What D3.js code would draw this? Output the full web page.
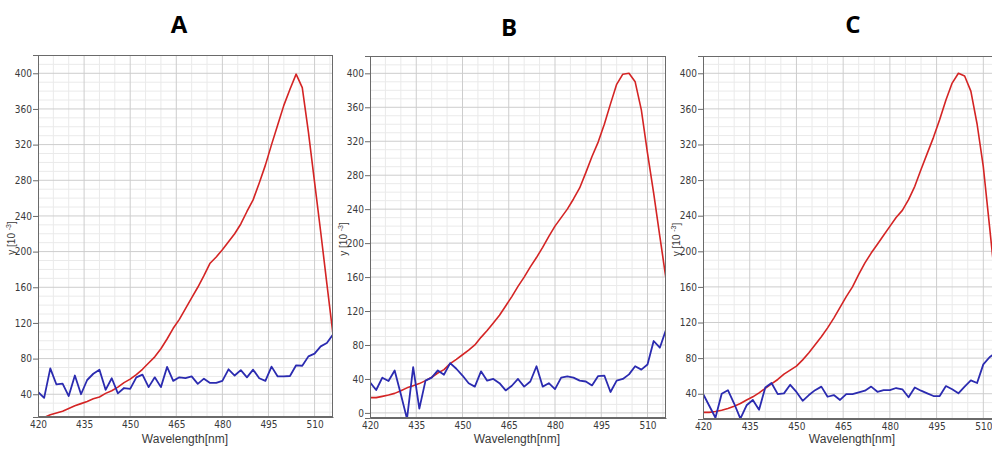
<!DOCTYPE html>
<html>
<head>
<meta charset="utf-8">
<script src="https://cdn.jsdelivr.net/npm/d3@7"></script>
<style>
  body { margin: 0; background: #fff; }
  svg { display: block; }
</style>
</head>
<body>
<svg id="chart" width="992" height="449"></svg>
<script>
// Wavelength samples (nm) shared by every spectrum
const wavelength = [420,422,424,426,428,430,432,434,436,438,440,442,444,446,448,450,452,454,456,458,
  460,462,464,466,468,470,472,474,476,478,480,482,484,486,488,490,492,494,496,498,
  500,502,504,506,508,510,512,514,516];

// Tick labels
const xTicks = [420,435,450,465,480,495,510];
const yTicksA = [40,80,120,160,200,240,280,320,360,400];
const yTicksB = [0,40,80,120,160,200,240,280,320,360,400];
const yTicksC = [40,80,120,160,200,240,280,320,360,400];

// Panel titles
const titles = ["A","B","C"];

// Spectra, y in units of 10^-3
const redA = [12,14,17,19,21,24,27,29.5,32,35,37,41,44,48,53,57,62,68,75,82,
  91,102,114,124,136,148,160,173,187,194,202,211,220,231,245,258,277,297,320,342,
  364,382,399,384,334,278,222,164,107];
const blueA = [42.6,36,69,51,52,38,61,40,56,63,67.6,45,58,41,47,46,59,62,48,59,
  48,70.6,55,59,58,60,51.6,57.5,52.7,52.7,55,68,61,67,59,67.6,58,55,71,60,
  60,60.5,72.5,72,82.5,85.5,93.7,97.5,107];

const redB = [18,18,19.5,21,23,26,29.5,32,34.5,38,42,47,51,58,63,68.5,74,80,89,97,
  106,115,126,137,149,160,172,183,195,208,220,230,240,252,265,283,302,319,340,364,
  387,399,400,390,357,306,259,208,158];
const blueB = [36,27,41.5,37.5,50,22,-7,54,5,38,41.5,50,45,58.7,52,44,35,31,49,38,
  40,35,26.5,32,40,31,37,55,31,35,28,41.5,43,41.5,38,37,32.4,43.4,44,24.6,
  38,40,45.4,55,51,57,84.7,76.8,98];

const redC = [19,19,20,21.5,23.5,26,29,33,36.5,41,46,51,56,62,66.5,71,78,86,95,104,
  114,125,137,149,160,174,187,198,208,218,228,238,246,258,273,292,310,328,348,370,
  389,400,397,380,343,295,228,160,100];
const blueC = [40,26.5,13,40,44,29,12,27,33,22,47,52,39.6,40.4,50,42,32,38.5,44,48,
  36.6,38.5,33,39.6,39.6,41.5,43.4,48,42.2,44,44,46.4,45,36,47,43.4,40.4,37.4,37.4,48.6,
  45,40.4,48,55,52,73,81,86,92];

// Layout of the three panels
const layout = [
  { left: 38,  top: 55, right: 333,  bottom: 417, yMin: 14.5, yMax: 420.5, titleX: 179, titleY: 33, ylabX: 15, labX: 185 },
  { left: 370, top: 56, right: 666,  bottom: 418, yMin: -6,   yMax: 420.4, titleX: 509, titleY: 36, ylabX: 347, labX: 517 },
  { left: 703, top: 56, right: 1002, bottom: 419, yMin: 11.6, yMax: 419.4, titleX: 853, titleY: 33, ylabX: 680, labX: 852 }
];

const series = [
  { red: redA, blue: blueA, yTicks: yTicksA },
  { red: redB, blue: blueB, yTicks: yTicksB },
  { red: redC, blue: blueC, yTicks: yTicksC }
];

const svg = d3.select("#chart");
const font = "'Liberation Sans Narrow', 'DejaVu Sans Condensed', 'Liberation Sans', Arial, sans-serif";
const labelFont = "'Liberation Sans', Arial, sans-serif";

layout.forEach((L, i) => {
  const S = series[i];
  const x = d3.scaleLinear().domain([420, 516]).range([L.left, L.right]);
  const y = d3.scaleLinear().domain([L.yMin, L.yMax]).range([L.bottom, L.top]);
  const g = svg.append("g");

  const clipId = "clip" + i;
  g.append("clipPath").attr("id", clipId)
    .append("rect")
    .attr("x", L.left).attr("y", L.top)
    .attr("width", L.right - L.left).attr("height", L.bottom - L.top);

  // minor grid
  const xMinor = d3.range(420, 517, 5).filter(v => (v - 420) % 15 !== 0);
  const yMinor = d3.range(-10, 430, 10).filter(v => v % 40 !== 0 && v > L.yMin && v < L.yMax);
  const grid = g.append("g").attr("clip-path", `url(#${clipId})`);
  grid.selectAll("line.xm").data(xMinor).join("line")
    .attr("x1", d => x(d)).attr("x2", d => x(d))
    .attr("y1", L.top).attr("y2", L.bottom)
    .attr("stroke", "#eaeaea").attr("stroke-width", 1);
  grid.selectAll("line.ym").data(yMinor).join("line")
    .attr("y1", d => y(d)).attr("y2", d => y(d))
    .attr("x1", L.left).attr("x2", L.right)
    .attr("stroke", "#eaeaea").attr("stroke-width", 1);

  // major grid
  grid.selectAll("line.xM").data(xTicks).join("line")
    .attr("x1", d => x(d)).attr("x2", d => x(d))
    .attr("y1", L.top).attr("y2", L.bottom)
    .attr("stroke", "#cdcdcd").attr("stroke-width", 1);
  grid.selectAll("line.yM").data(S.yTicks).join("line")
    .attr("y1", d => y(d)).attr("y2", d => y(d))
    .attr("x1", L.left).attr("x2", L.right)
    .attr("stroke", "#cdcdcd").attr("stroke-width", 1);

  // spectra
  const line = d3.line().x((d, k) => x(wavelength[k])).y(d => y(d));
  const plot = g.append("g").attr("clip-path", `url(#${clipId})`);
  plot.append("path").datum(S.red)
    .attr("d", line).attr("fill", "none")
    .attr("stroke", "#d42424").attr("stroke-width", 1.6)
    .attr("stroke-linejoin", "round");
  plot.append("path").datum(S.blue)
    .attr("d", line).attr("fill", "none")
    .attr("stroke", "#2b2bb0").attr("stroke-width", 1.8)
    .attr("stroke-linejoin", "round");

  // frame
  g.append("rect")
    .attr("x", L.left + 0.5).attr("y", L.top + 0.5)
    .attr("width", L.right - L.left - 1).attr("height", L.bottom - L.top - 1)
    .attr("fill", "none").attr("stroke", "#6a6a6a").attr("stroke-width", 1);

  // axes
  const yAxis = g.append("g").attr("transform", `translate(${L.left},0)`)
    .call(d3.axisLeft(y).tickValues(S.yTicks).tickSize(5).tickPadding(1));
  const xAxis = g.append("g").attr("transform", `translate(0,${L.bottom})`)
    .call(d3.axisBottom(x).tickValues(xTicks).tickSize(0).tickPadding(4));
  [xAxis, yAxis].forEach(a => {
    a.select(".domain").attr("stroke", "#6a6a6a");
    a.selectAll(".tick line").attr("stroke", "#6a6a6a");
    a.selectAll(".tick text").attr("fill", "#3a3a3a")
      .style("font-family", font).style("font-size", "10px");
  });

  // axis titles
  g.append("text")
    .attr("x", L.labX)
    .attr("y", 443)
    .attr("text-anchor", "middle")
    .attr("fill", "#3a3a3a")
    .style("font-family", labelFont).style("font-size", "12px")
    .text("Wavelength[nm]");

  const yl = g.append("text")
    .attr("transform", `translate(${L.ylabX},${(L.top + L.bottom) / 2 + 2}) rotate(-90)`)
    .attr("text-anchor", "middle")
    .attr("fill", "#3a3a3a")
    .style("font-family", labelFont).style("font-size", "10px");
  yl.append("tspan").text("y [10 ");
  yl.append("tspan").attr("dy", "-4").style("font-size", "7px").text("-3");
  yl.append("tspan").attr("dy", "4").text("]");

  // panel title
  svg.append("text")
    .attr("x", L.titleX).attr("y", L.titleY)
    .attr("text-anchor", "middle")
    .style("font-family", "'Open Sans', sans-serif")
    .style("font-weight", "bold").style("font-size", "24px")
    .attr("fill", "#000")
    .text(titles[i]);
});
</script>
</body>
</html>
